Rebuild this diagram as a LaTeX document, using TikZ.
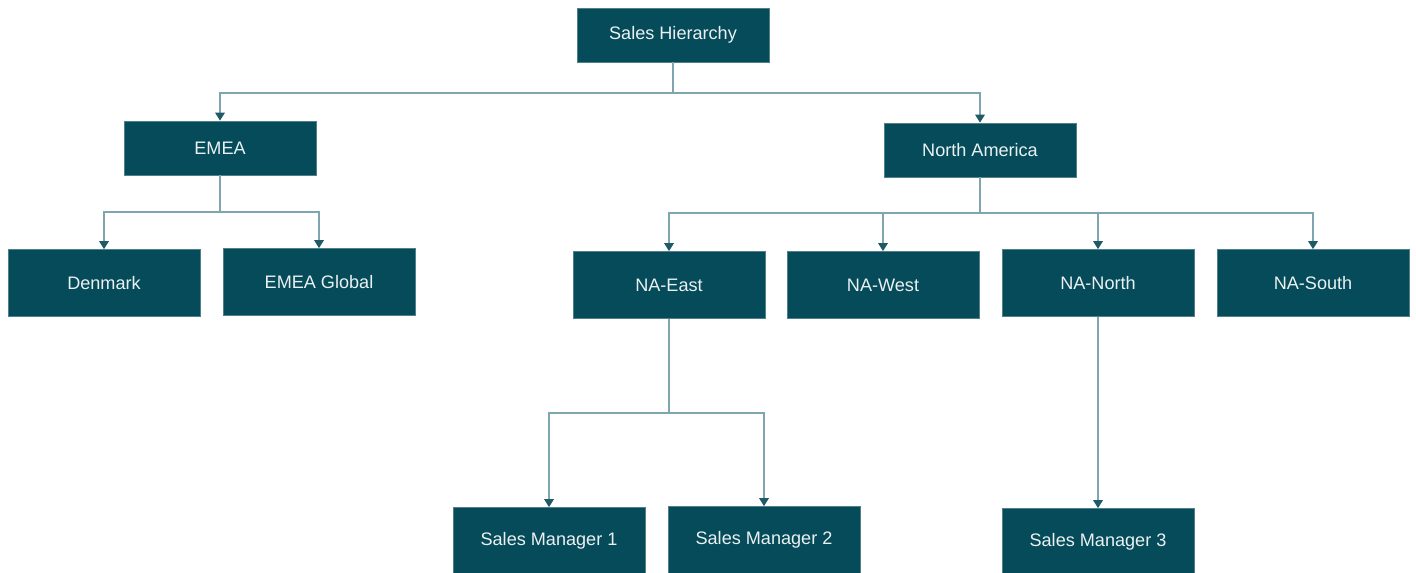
\documentclass[tikz,border=0pt]{standalone}
\usepackage{fontspec}
\setmainfont{Liberation Sans}
\usetikzlibrary{arrows.meta}
\definecolor{boxteal}{HTML}{054B59}
\definecolor{linkteal}{HTML}{7FA6AE}
\definecolor{tipteal}{HTML}{1F5A66}

\tikzset{
  unit/.style={fill=boxteal, draw=boxteal!70!white, line width=0.4pt,
    text=white!92!boxteal, minimum width=3.84cm, inner sep=0pt,
    font=\fontsize{10.3}{12}\selectfont},
  head/.style={unit, minimum height=1.08cm},
  leaf/.style={unit, minimum height=1.34cm},
  link/.style={draw=linkteal, line width=0.9pt,
    -{Triangle[width=0.19cm,length=0.16cm,color=tipteal]}}
}

\begin{document}
\begin{tikzpicture}[x=0.02cm,y=-0.02cm]
\clip (0,0) rectangle (1416,573);

% top levels
\node[head] (hier) at (673,35) {Sales Hierarchy};
\node[head] (emea) at (220,148) {EMEA};
\node[head] (namer) at (980,150) {North America};

% regions
\node[leaf] (denmark) at (104,283) {Denmark};
\node[leaf] (emeaglobal) at (319,282) {EMEA Global};
\node[leaf] (naeast) at (669,285) {NA-East};
\node[leaf] (nawest) at (883,285) {NA-West};
\node[leaf] (nanorth) at (1098,283) {NA-North};
\node[leaf] (nasouth) at (1313,283) {NA-South};

% managers
\node[leaf] (sm1) at (549,541) {Sales Manager 1};
\node[leaf] (sm2) at (764,540) {Sales Manager 2};
\node[leaf] (sm3) at (1098,542) {Sales Manager 3};

\coordinate (jtop) at (673,93);
\coordinate (jemea) at (220,212);
\coordinate (jna) at (980,213);
\coordinate (jeast) at (669,413);

\draw[link] (hier.south) -- (jtop) -| (emea.north);
\draw[link] (jtop) -| (namer.north);

\draw[link] (emea.south) -- (jemea) -| (denmark.north);
\draw[link] (jemea) -| (emeaglobal.north);

\draw[link] (namer.south) -- (jna) -| (naeast.north);
\draw[link] (jna) -| (nawest.north);
\draw[link] (jna) -| (nanorth.north);
\draw[link] (jna) -| (nasouth.north);

\draw[link] (naeast.south) -- (jeast) -| (sm1.north);
\draw[link] (jeast) -| (sm2.north);
\draw[link] (nanorth.south) -- (sm3.north);

\end{tikzpicture}
\end{document}
